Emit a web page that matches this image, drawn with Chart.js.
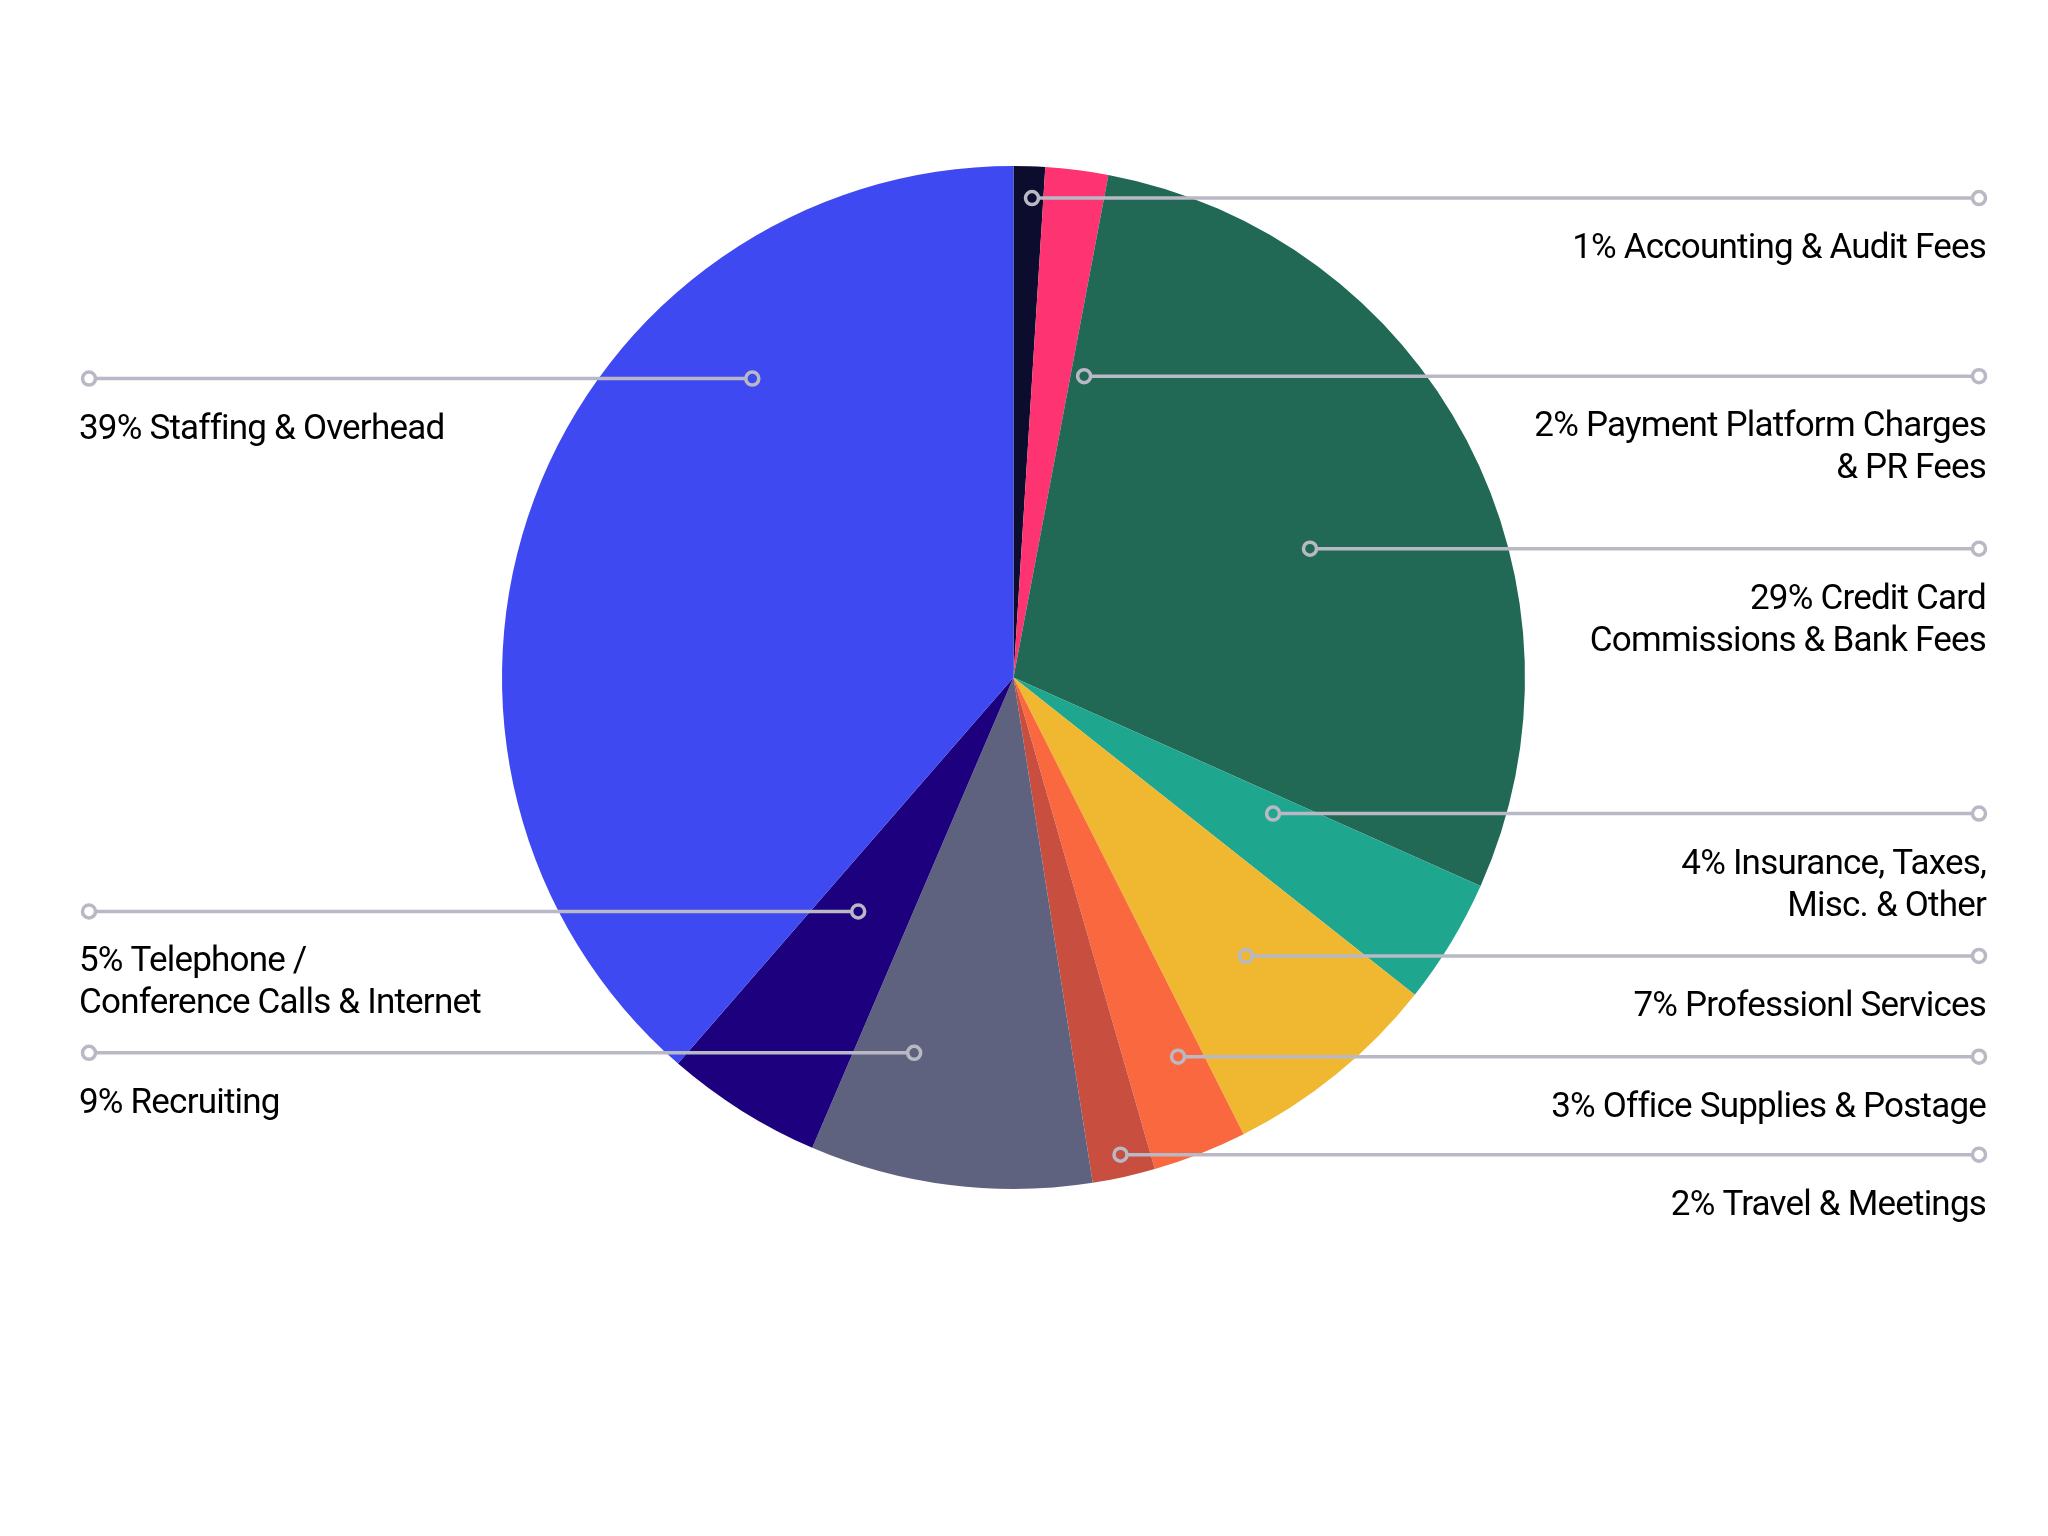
<!DOCTYPE html>
<html>
<head>
<meta charset="utf-8">
<style>
  html, body { margin: 0; padding: 0; background: #ffffff; }
  canvas { display: block; }
</style>
<script src="https://cdn.jsdelivr.net/npm/chart.js@4.4.1/dist/chart.umd.min.js"></script>
</head>
<body>
<canvas id="mycanvas" width="2048" height="1536"></canvas>
<script>
// slice data, clockwise from 12 o'clock
var categories = [
    'Accounting & Audit Fees',
    'Payment Platform Charges & PR Fees',
    'Credit Card Commissions & Bank Fees',
    'Insurance, Taxes, Misc. & Other',
    'Professionl Services',
    'Office Supplies & Postage',
    'Travel & Meetings',
    'Recruiting',
    'Telephone / Conference Calls & Internet',
    'Staffing & Overhead'
];
var percents = [1, 2, 29, 4, 7, 3, 2, 9, 5, 39];
// how each category label is broken into lines next to the leader
var labelLines = [
    ['Accounting & Audit Fees'],
    ['Payment Platform Charges', '& PR Fees'],
    ['Credit Card', 'Commissions & Bank Fees'],
    ['Insurance, Taxes,', 'Misc. & Other'],
    ['Professionl Services'],
    ['Office Supplies & Postage'],
    ['Travel & Meetings'],
    ['Recruiting'],
    ['Telephone /', 'Conference Calls & Internet'],
    ['Staffing & Overhead']
];
var colors = ['#0c0c2e', '#fe3371', '#216955', '#1fa68f', '#efb830',
              '#f9683e', '#c84e40', '#5e627e', '#1d007d', '#3f49f1'];

// where each leader starts inside the pie: [position across the slice, share of radius]
var anchors = [[0.62, 0.938], [1.35, 0.605], [0.54, 0.632], [0.253, 0.573], [0.474, 0.709],
               [0.306, 0.808], [0.477, 0.956], [0.74, 0.759], [0.584, 0.549], [0.704, 0.776]];

var leaders = {
    id: 'leaders',
    afterDatasetsDraw: function(chart) {
        var ctx = chart.ctx;
        var meta = chart.getDatasetMeta(0);
        var lineColor = '#b9b9c5';
        ctx.save();
        ctx.font = '35px Roboto';
        ctx.letterSpacing = '-0.8px';
        ctx.fillStyle = '#000000';
        ctx.textBaseline = 'alphabetic';
        meta.data.forEach(function(arc, i) {
            var p = arc.getProps(['x', 'y', 'startAngle', 'endAngle', 'outerRadius'], true);
            var a = p.startAngle + anchors[i][0] * (p.endAngle - p.startAngle);
            var r = anchors[i][1] * p.outerRadius;
            var x0 = p.x + r * Math.cos(a);
            var y0 = p.y + r * Math.sin(a);
            var left = x0 < p.x;
            var x1 = left ? 89 : chart.width - 69;
            var rr = 6.5;

            ctx.strokeStyle = lineColor;
            ctx.lineWidth = 3.5;
            ctx.beginPath();
            ctx.moveTo(x0 + (left ? -rr : rr), y0);
            ctx.lineTo(x1 + (left ? rr : -rr), y0);
            ctx.stroke();
            [x0, x1].forEach(function(cx) {
                ctx.beginPath();
                ctx.arc(cx, y0, rr, 0, Math.PI * 2);
                ctx.stroke();
            });

            ctx.textAlign = left ? 'left' : 'right';
            var tx = left ? 79 : chart.width - 62;
            labelLines[i].forEach(function(s, k) {
                var txt = k === 0 ? percents[i] + '% ' + s : s;
                ctx.fillText(txt, tx, y0 + 60 + k * 42);
            });
        });
        ctx.restore();
    }
};

var chartdata = {
    labels: categories,
    datasets: [{
        data: percents,
        backgroundColor: colors,
        borderWidth: 0,
        hoverOffset: 0
    }]
};

var ctx = document.getElementById('mycanvas');
var pieChart = new Chart(ctx, {
    type: 'pie',
    data: chartdata,
    options: {
        responsive: false,
        animation: false,
        layout: { padding: { left: 400, right: 421, top: 166, bottom: 347 } },
        plugins: {
            legend: { display: false },
            tooltip: { enabled: false }
        }
    },
    plugins: [leaders]
});
</script>
</body>
</html>
